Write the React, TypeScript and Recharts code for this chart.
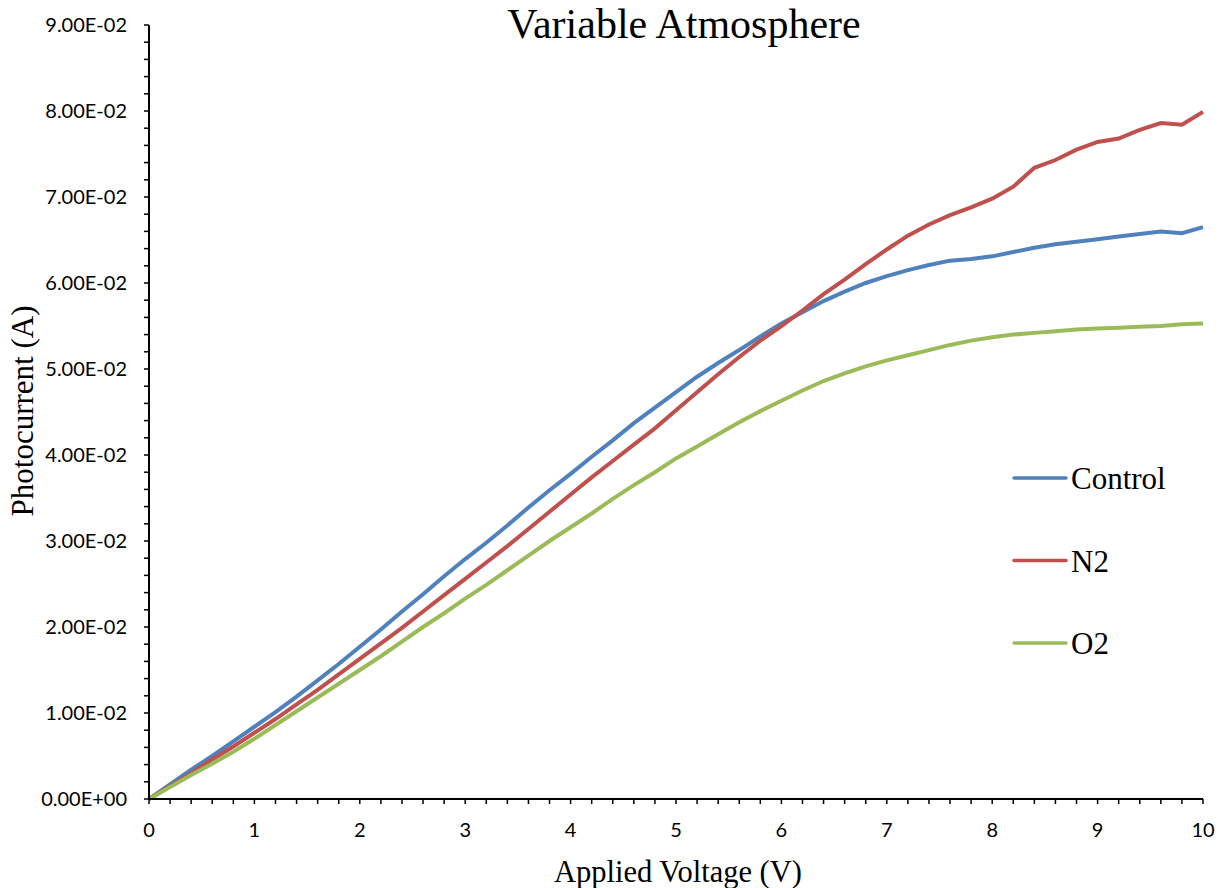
import { LineChart, Line, XAxis, YAxis } from "recharts";

const voltage = [
  0, 0.2, 0.4, 0.6, 0.8, 1, 1.2, 1.4, 1.6, 1.8, 2, 2.2, 2.4, 2.6, 2.8, 3, 3.2, 3.4, 3.6, 3.8, 4,
  4.2, 4.4, 4.6, 4.8, 5, 5.2, 5.4, 5.6, 5.8, 6, 6.2, 6.4, 6.6, 6.8, 7, 7.2, 7.4, 7.6, 7.8, 8,
  8.2, 8.4, 8.6, 8.8, 9, 9.2, 9.4, 9.6, 9.8, 10,
];

const control = [
  0, 0.0017, 0.0034, 0.005, 0.0067, 0.0084, 0.0101, 0.0119, 0.0138, 0.0157, 0.0177, 0.0197,
  0.0218, 0.0238, 0.0259, 0.0279, 0.0298, 0.0318, 0.0339, 0.0359, 0.0378, 0.0398, 0.0417,
  0.0437, 0.0455, 0.0473, 0.0491, 0.0507, 0.0522, 0.0538, 0.0553, 0.0566, 0.0579, 0.059,
  0.06, 0.0608, 0.0615, 0.0621, 0.0626, 0.0628, 0.0631, 0.0636, 0.0641, 0.0645, 0.0648,
  0.0651, 0.0654, 0.0657, 0.066, 0.0658, 0.0665,
];

const n2 = [
  0, 0.0015, 0.003, 0.0046, 0.0061, 0.0077, 0.0093, 0.011, 0.0127, 0.0145, 0.0163, 0.0181,
  0.0199, 0.0218, 0.0237, 0.0256, 0.0275, 0.0294, 0.0314, 0.0334, 0.0354, 0.0374, 0.0393,
  0.0412, 0.0431, 0.0452, 0.0473, 0.0494, 0.0514, 0.0533, 0.055, 0.0568, 0.0587, 0.0604,
  0.0622, 0.0639, 0.0655, 0.0668, 0.0679, 0.0688, 0.0698, 0.0712, 0.0734, 0.0743, 0.0755,
  0.0764, 0.0768, 0.0778, 0.0786, 0.0784, 0.0799,
];

const o2 = [
  0, 0.0014, 0.0028, 0.0041, 0.0055, 0.007, 0.0086, 0.0102, 0.0118, 0.0134, 0.015, 0.0166,
  0.0183, 0.02, 0.0216, 0.0233, 0.0249, 0.0266, 0.0283, 0.03, 0.0316, 0.0332, 0.0349,
  0.0365, 0.038, 0.0396, 0.041, 0.0424, 0.0438, 0.0451, 0.0463, 0.0475, 0.0486, 0.0495,
  0.0503, 0.051, 0.0516, 0.0522, 0.0528, 0.0533, 0.0537, 0.054, 0.0542, 0.0544, 0.0546,
  0.0547, 0.0548, 0.0549, 0.055, 0.0552, 0.0553,
];

const seriesNames = ["Control", "N2", "O2"];
const seriesColors = ["#4F81BD", "#C0504D", "#9BBB59"];

// minor ticks every 0.2 V and every 0.002 A, labels only on the majors
const xTicks = Array.from({ length: 51 }, (_, i) => i / 5);
const yTicks = Array.from({ length: 46 }, (_, i) => i / 500);

const data = voltage.map((v, i) => ({ v, Control: control[i], N2: n2[i], O2: o2[i] }));

const serif = "'Liberation Serif', 'Times New Roman', serif";
const sans = "Lato, 'Open Sans', sans-serif";

function fmtX(v: number) {
  return Math.abs(v - Math.round(v)) < 1e-9 ? String(Math.round(v)) : "";
}

function fmtY(v: number) {
  const k = Math.round(v * 500);
  if (k % 5 !== 0) return "";
  const [m, e] = v.toExponential(2).split("e");
  const n = parseInt(e, 10);
  const sign = n < 0 ? "-" : "+";
  return `${m}E${sign}${String(Math.abs(n)).padStart(2, "0")}`;
}

export default function App() {
  return (
    <div style={{ position: "absolute", left: 0, top: 0, width: 1222, height: 888, background: "#fff" }}>
      <LineChart width={1222} height={888} data={data} margin={{ top: 25, right: 19, bottom: 0, left: 0 }}>
        <XAxis
          dataKey="v"
          type="number"
          domain={[0, 10]}
          ticks={xTicks}
          interval={0}
          tickFormatter={fmtX}
          height={89}
          tickSize={5}
          tickMargin={19}
          axisLine={{ stroke: "#000", strokeWidth: 2 }}
          tickLine={{ stroke: "#000", strokeWidth: 1.5 }}
          tick={{ fill: "#000", fontFamily: sans, fontSize: 20 }}
        />
        <YAxis
          type="number"
          domain={[0, 0.09]}
          ticks={yTicks}
          interval={0}
          tickFormatter={fmtY}
          width={149}
          tickSize={5}
          tickMargin={17}
          axisLine={{ stroke: "#000", strokeWidth: 2 }}
          tickLine={{ stroke: "#000", strokeWidth: 1.5 }}
          tick={{ fill: "#000", fontFamily: sans, fontSize: 20 }}
        />
        {seriesNames.map((name, i) => (
          <Line
            key={name}
            type="linear"
            dataKey={name}
            stroke={seriesColors[i]}
            strokeWidth={4}
            dot={false}
            isAnimationActive={false}
          />
        ))}
        {seriesNames.map((name, i) => (
          <g key={`leg-${name}`}>
            <line
              x1={1014}
              x2={1066}
              y1={478 + i * 82.5}
              y2={478 + i * 82.5}
              stroke={seriesColors[i]}
              strokeWidth={3.5}
              strokeLinecap="round"
            />
            <text x={1071} y={489 + i * 82.5} fontFamily={serif} fontSize={31} fill="#000">
              {name}
            </text>
          </g>
        ))}
        <text x={684} y={38} textAnchor="middle" fontFamily={serif} fontSize={42} fill="#000">
          Variable Atmosphere
        </text>
        <text x={678} y={882} textAnchor="middle" fontFamily={serif} fontSize={30.5} fill="#000">
          Applied Voltage (V)
        </text>
        <text
          x={33}
          y={411}
          textAnchor="middle"
          fontFamily={serif}
          fontSize={31}
          fill="#000"
          transform="rotate(-90, 33, 411)"
        >
          Photocurrent (A)
        </text>
      </LineChart>
    </div>
  );
}
